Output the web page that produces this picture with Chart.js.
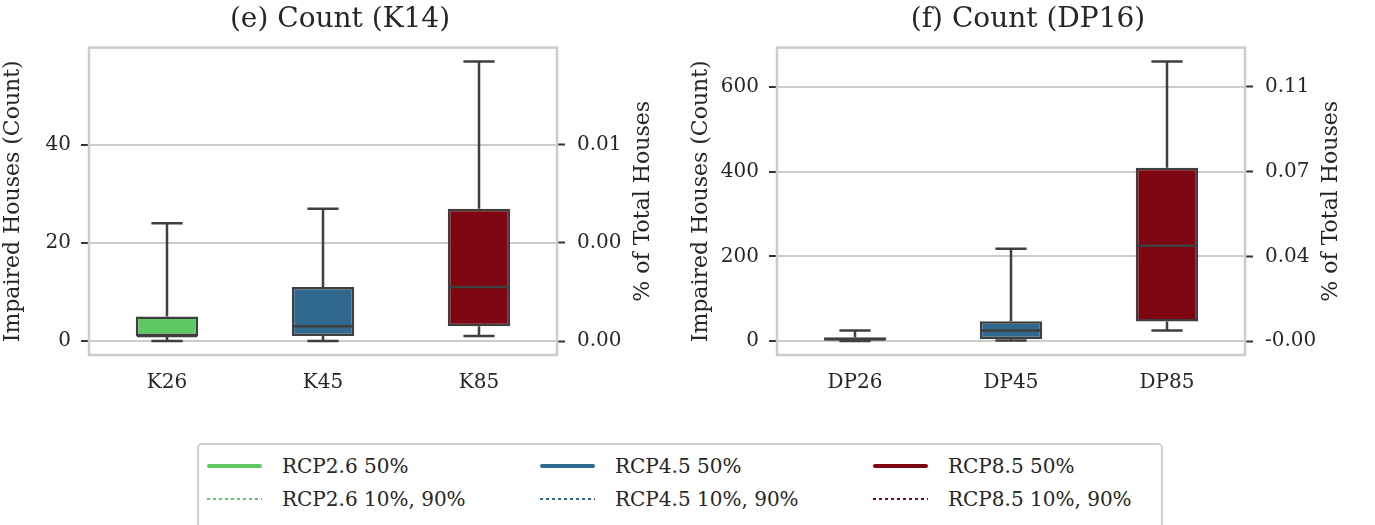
<!DOCTYPE html>
<html>
<head>
<meta charset="utf-8">
<script src="https://cdn.jsdelivr.net/npm/chart.js@4"></script>
<style>
  body { margin: 0; background: #fff; width: 1375px; height: 525px; overflow: hidden; position: relative; font-family: "DejaVu Serif", serif; }
  canvas { position: absolute; top: 0; }
  #left { left: 0; }
  #right { left: 688px; }
  #legend { position: absolute; left: 197px; top: 443px; width: 962px; height: 90px; border: 2px solid #d0d0d0; border-radius: 5px; }
  .entry { position: absolute; height: 28px; display: flex; align-items: center; font-size: 20px; color: #262626; white-space: nowrap; }
  .entry span.line { display: inline-block; width: 55px; margin-right: 20px; }
</style>
</head>
<body>
<canvas id="left" width="680" height="430"></canvas>
<canvas id="right" width="680" height="430"></canvas>
<div id="legend"></div>
<script>
// panel (e) K14
const kCategories = ["K26", "K45", "K85"];
const kMin = [0, 0, 1];
const kQ1 = [1, 1, 3];
const kMed = [1, 3, 11];
const kQ3 = [5, 11, 27];
const kMax = [24, 27, 57];
const kTicks = [0, 20, 40];
const kPctLabels = ["0.00", "0.00", "0.01"];

// panel (f) DP16
const dpCategories = ["DP26", "DP45", "DP85"];
const dpMin = [0, 1, 25];
const dpQ1 = [1, 5, 46];
const dpMed = [4, 25, 225];
const dpQ3 = [9, 47, 409];
const dpMax = [25, 218, 660];
const dpTicks = [0, 200, 400, 600];
const dpPctLabels = ["-0.00", "0.04", "0.07", "0.11"];

const scenarios = ["RCP2.6", "RCP4.5", "RCP8.5"];
const colors = ["#5ec962", "#31688e", "#7d0612"];

const serif = "DejaVu Serif";
const textColor = "#262626";
const rightTitle = "% of Total Houses";

const boxPlot = {
  id: "boxPlot",
  afterDatasetsDraw(chart, args, opts) {
    const ctx = chart.ctx;
    const y = chart.scales.y;
    const s = opts.stats;
    const meta = chart.getDatasetMeta(0);
    ctx.save();
    ctx.strokeStyle = "#3f3f3f";
    ctx.lineWidth = 2.5;
    meta.data.forEach((bar, i) => {
      const x = bar.x, half = bar.width / 2, cap = bar.width / 4;
      const py = v => y.getPixelForValue(v);
      ctx.beginPath();
      ctx.moveTo(x, py(s.q3[i])); ctx.lineTo(x, py(s.max[i]));
      ctx.moveTo(x - cap, py(s.max[i])); ctx.lineTo(x + cap, py(s.max[i]));
      ctx.moveTo(x, py(s.q1[i])); ctx.lineTo(x, py(s.min[i]));
      ctx.moveTo(x - cap, py(s.min[i])); ctx.lineTo(x + cap, py(s.min[i]));
      ctx.moveTo(x - half + 1, py(s.med[i])); ctx.lineTo(x + half - 1, py(s.med[i]));
      ctx.stroke();
    });
    const a = chart.chartArea;
    ctx.strokeStyle = "#cccccc";
    ctx.lineWidth = 2.5;
    ctx.strokeRect(a.left, a.top, a.right - a.left, a.bottom - a.top);
    // right axis title, reading bottom to top like the left one
    ctx.fillStyle = textColor;
    ctx.font = "22px '" + serif + "'";
    ctx.textAlign = "center";
    ctx.textBaseline = "middle";
    ctx.translate(a.right + 86, (a.top + a.bottom) / 2);
    ctx.rotate(-Math.PI / 2);
    ctx.fillText(rightTitle, 0, 0);
    ctx.restore();
  }
};

function makePanel(canvasId, title, cats, mins, q1s, meds, q3s, maxs, ticks, pctLabels) {
  const lo = Math.min(...mins), hi = Math.max(...maxs);
  const pad = (hi - lo) * 0.05;
  const yTicks = {
    color: textColor,
    font: { family: serif, size: 20 },
  };
  return new Chart(document.getElementById(canvasId), {
    type: "bar",
    data: {
      labels: cats,
      datasets: [{
        data: cats.map((c, i) => [q1s[i], q3s[i]]),
        backgroundColor: colors,
        borderColor: "#3f3f3f",
        borderWidth: 2.5,
        borderSkipped: false,
        barPercentage: 0.4,
        categoryPercentage: 1
      }]
    },
    options: {
      responsive: false,
      animation: false,
      layout: { padding: 0 },
      plugins: {
        legend: { display: false },
        tooltip: { enabled: false },
        title: {
          display: true,
          text: title,
          color: textColor,
          font: { family: serif, size: 28, weight: "normal" },
          padding: { top: 3, bottom: 11 }
        },
        boxPlot: { stats: { min: mins, q1: q1s, med: meds, q3: q3s, max: maxs } }
      },
      scales: {
        x: {
          grid: { display: false, drawTicks: false },
          border: { display: false },
          ticks: { color: textColor, font: { family: serif, size: 20 }, padding: 16 },
          afterFit: s => { s.height = 75; }
        },
        y: {
          position: "left",
          min: lo - pad,
          max: hi + pad,
          afterBuildTicks: s => { s.ticks = ticks.map(v => ({ value: v })); },
          grid: { color: "#cccccc", lineWidth: 2, tickColor: "#333333", tickLength: 8, tickWidth: 2 },
          border: { display: false },
          ticks: Object.assign({ padding: 10 }, yTicks),
          title: {
            display: true,
            text: "Impaired Houses (Count)",
            color: textColor,
            font: { family: serif, size: 22 },
            padding: { top: 0, bottom: 8 }
          },
          afterFit: s => { s.width = 89; }
        },
        y1: {
          position: "right",
          min: lo - pad,
          max: hi + pad,
          afterBuildTicks: s => { s.ticks = ticks.map(v => ({ value: v })); },
          grid: { drawOnChartArea: false, tickColor: "#333333", tickLength: 8, tickWidth: 2 },
          border: { display: false },
          ticks: Object.assign({ padding: 12, callback: (v, i) => pctLabels[i] }, yTicks),
          afterFit: s => { s.width = 123; }
        }
      }
    },
    plugins: [boxPlot]
  });
}

makePanel("left", "(e) Count (K14)", kCategories, kMin, kQ1, kMed, kQ3, kMax, kTicks, kPctLabels);
makePanel("right", "(f) Count (DP16)", dpCategories, dpMin, dpQ1, dpMed, dpQ3, dpMax, dpTicks, dpPctLabels);

// legend
const legend = document.getElementById("legend");
const rows = [["50%", "solid"], ["10%, 90%", "dotted"]];
rows.forEach((row, r) => {
  scenarios.forEach((name, c) => {
    const entry = document.createElement("div");
    entry.className = "entry";
    entry.style.left = (8 + c * 333) + "px";
    entry.style.top = (7 + r * 33) + "px";
    const line = document.createElement("span");
    line.className = "line";
    if (row[1] === "solid") {
      line.style.height = "4px";
      line.style.borderRadius = "2px";
      line.style.background = colors[c];
    } else {
      line.style.height = "2.5px";
      line.style.background = "repeating-linear-gradient(to right, " + colors[c] + " 0 3px, transparent 3px 6px)";
    }
    entry.appendChild(line);
    entry.appendChild(document.createTextNode(name + " " + row[0]));
    legend.appendChild(entry);
  });
});
</script>
</body>
</html>
